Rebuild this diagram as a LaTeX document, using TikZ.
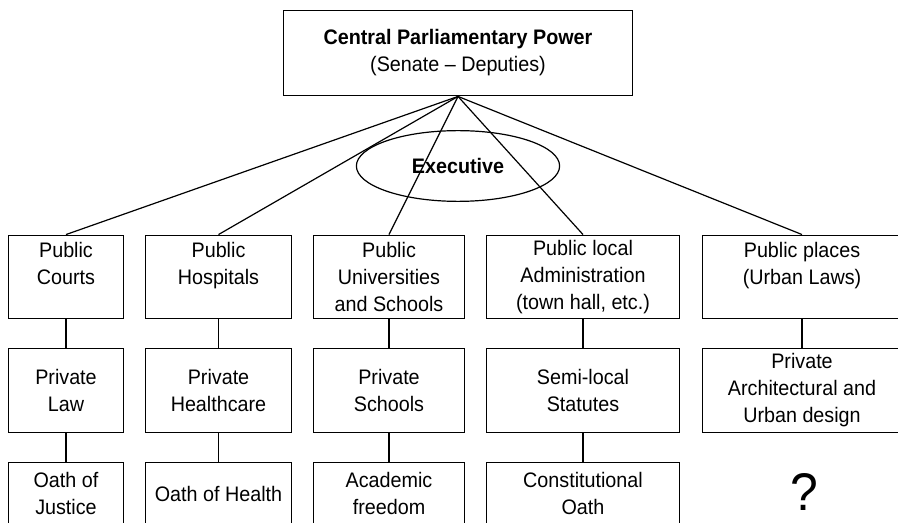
\documentclass[tikz,border=0pt]{standalone}
\usepackage{fontspec}
\setmainfont[FakeStretch=0.94]{Liberation Sans}
\usetikzlibrary{shapes.geometric}

\tikzset{
  cell/.style={draw, line width=1.2bp, inner sep=0pt, align=center},
  link/.style={line width=1.2bp},
}

\begin{document}
\fontsize{21bp}{27bp}\selectfont
\begin{tikzpicture}[x=1bp,y=-1bp]
\useasboundingbox (0,0) rectangle (898,523);
\clip (0,0) rectangle (898,523);

\node[cell, minimum width=350, minimum height=86] (C) at (458,53)
  {\textbf{Central Parliamentary Power}\\(Senate -- Deputies)};

\node[cell, minimum width=116, minimum height=84] (P1) at (66,277) {Public\\Courts\\~};
\node[cell, minimum width=147, minimum height=84] (P2) at (218.5,277) {Public\\Hospitals\\~};
\node[cell, minimum width=152, minimum height=84] (P3) at (389,277) {Public\\Universities\\and Schools};
\node[cell, minimum width=194, minimum height=84] (P4) at (583,277) {Public local\\Administration\\(town hall, etc.)};
\node[cell, minimum width=200, minimum height=84] (P5) at (802,277) {Public places\\(Urban Laws)\\~};

\node[cell, minimum width=116, minimum height=85] (R1) at (66,390.5) {Private\\Law};
\node[cell, minimum width=147, minimum height=85] (R2) at (218.5,390.5) {Private\\Healthcare};
\node[cell, minimum width=152, minimum height=85] (R3) at (389,390.5) {Private\\Schools};
\node[cell, minimum width=194, minimum height=85] (R4) at (583,390.5) {Semi-local\\Statutes};
\node[cell, minimum width=200, minimum height=85] (R5) at (802,390.5) {Private\\Architectural and\\Urban design};

\node[cell, minimum width=116, minimum height=63] (O1) at (66,493.5) {Oath of\\Justice};
\node[cell, minimum width=147, minimum height=63] (O2) at (218.5,493.5) {Oath of Health};
\node[cell, minimum width=152, minimum height=63] (O3) at (389,493.5) {Academic\\freedom};
\node[cell, minimum width=194, minimum height=63] (O4) at (583,493.5) {Constitutional\\Oath};

\node[font=\fontsize{53bp}{60bp}\selectfont] (Q) at (804,492) {?};

\foreach \i in {1,...,5}
  \draw[link] (C.south) -- (P\i.north);
\foreach \i in {1,...,5}
  \draw[link] (P\i.south) -- (R\i.north);
\foreach \i in {1,...,4}
  \draw[link] (R\i.south) -- (O\i.north);

\node[ellipse, draw, line width=1.2bp, minimum width=204, minimum height=71, inner sep=0pt] (E) at (458,166)
  {\textbf{Executive}};

\end{tikzpicture}
\end{document}
